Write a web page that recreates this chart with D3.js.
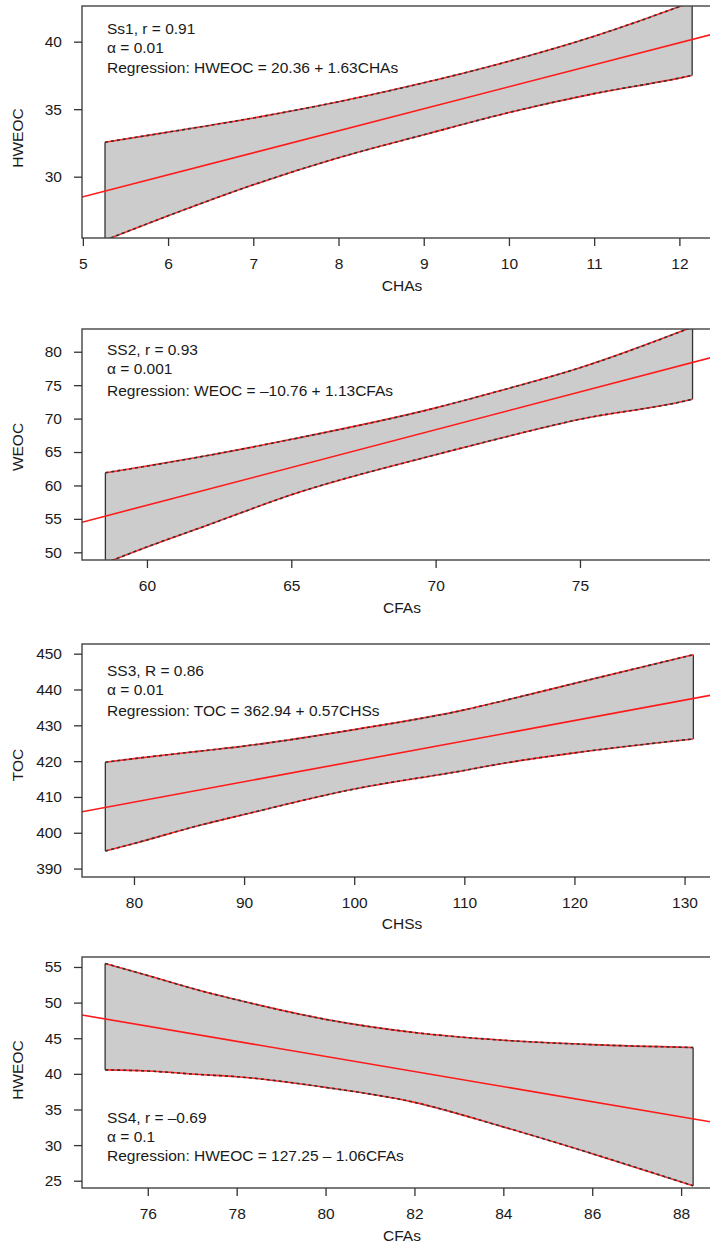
<!DOCTYPE html>
<html>

<head>
    <meta charset="utf-8">
    <style>
    body {
        margin: 0px;
        padding: 0px;
        background-color: white;
        overflow: hidden;
    }

    svg text {
        font-family: "Liberation Sans", Arial, sans-serif;
        fill: #1a1a1a;
    }

    .tick text {
        font-size: 15.5px;
    }

    .tick line {
        stroke: #333;
        stroke-width: 1.3px;
    }

    .note,
    .axis-title {
        font-size: 15.5px;
    }
    </style>
</head>

<body>
<script src="https://d3js.org/d3.v7.min.js"></script>
<script>
// SS1: HWEOC vs CHAs
var ss1X = [5.26, 6, 7, 8, 9, 10, 11, 12, 12.15];
var ss1Upper = [32.55, 33.3, 34.35, 35.55, 36.95, 38.55, 40.4, 42.6, 42.95];
var ss1Lower = [25.3, 27.1, 29.4, 31.4, 33.1, 34.75, 36.15, 37.3, 37.5];
var ss1Coef = [20.36, 1.63];
var ss1XDomain = [4.99, 12.5];
var ss1YDomain = [25.46, 42.64];
var ss1XTicks = [5, 6, 7, 8, 9, 10, 11, 12];
var ss1YTicks = [30, 35, 40];
var ss1Notes = ["Ss1, r = 0.91", "α = 0.01", "Regression: HWEOC = 20.36 + 1.63CHAs"];

// SS2: WEOC vs CFAs
var ss2X = [58.56, 60, 62, 65, 70, 72, 75, 78.6, 78.9];
var ss2Upper = [61.9, 62.9, 64.4, 66.9, 71.6, 73.9, 77.6, 83.2, 83.7];
var ss2Lower = [48.4, 50.8, 53.9, 58.6, 64.6, 66.8, 69.9, 72.6, 72.9];
var ss2Coef = [-10.76, 1.13];
var ss2XDomain = [57.75, 79.92];
var ss2YDomain = [48.85, 83.4];
var ss2XTicks = [60, 65, 70, 75];
var ss2YTicks = [50, 55, 60, 65, 70, 75, 80];
var ss2Notes = ["SS2, r = 0.93", "α = 0.001", "Regression: WEOC = –10.76 + 1.13CFAs"];

// SS3: TOC vs CHSs
var ss3X = [77.4, 80, 86, 90, 100, 110, 113.2, 120, 130.8];
var ss3Upper = [419.7, 420.7, 422.8, 424.2, 428.8, 434.3, 436.6, 441.7, 449.7];
var ss3Lower = [394.9, 397.0, 402.1, 405.1, 412.2, 417.4, 419.2, 422.3, 426.2];
var ss3Coef = [362.94, 0.57];
var ss3XDomain = [75.28, 133.4];
var ss3YDomain = [387.65, 452.7];
var ss3XTicks = [80, 90, 100, 110, 120, 130];
var ss3YTicks = [390, 400, 410, 420, 430, 440, 450];
var ss3Notes = ["SS3, R = 0.86", "α = 0.01", "Regression: TOC = 362.94 + 0.57CHSs"];

// SS4: HWEOC vs CFAs
var ss4X = [75.04, 76, 77.17, 78, 80, 82, 83.92, 86, 88.27];
var ss4Upper = [55.5, 53.8, 51.7, 50.4, 47.65, 45.8, 44.75, 44.1, 43.7];
var ss4Lower = [40.56, 40.4, 39.9, 39.6, 38.1, 36.0, 32.7, 28.8, 24.3];
var ss4Coef = [127.25, -1.06];
var ss4XDomain = [74.52, 88.92];
var ss4YDomain = [23.98, 56.4];
var ss4XTicks = [76, 78, 80, 82, 84, 86, 88];
var ss4YTicks = [25, 30, 35, 40, 45, 50, 55];
var ss4Notes = ["SS4, r = –0.69", "α = 0.1", "Regression: HWEOC = 127.25 – 1.06CFAs"];

var width = 710,
    height = 1246,
    plotLeft = 82,
    plotRight = 722;

var panels = [
    { x: ss1X, upper: ss1Upper, lower: ss1Lower, coef: ss1Coef, xDomain: ss1XDomain, yDomain: ss1YDomain,
      xTicks: ss1XTicks, yTicks: ss1YTicks, notes: ss1Notes, xTitle: "CHAs", yTitle: "HWEOC",
      top: 6, bottom: 238, yTitleY: 138, xTitleY: 286, noteY: [29, 48, 68] },
    { x: ss2X, upper: ss2Upper, lower: ss2Lower, coef: ss2Coef, xDomain: ss2XDomain, yDomain: ss2YDomain,
      xTicks: ss2XTicks, yTicks: ss2YTicks, notes: ss2Notes, xTitle: "CFAs", yTitle: "WEOC",
      top: 329, bottom: 560, yTitleY: 447, xTitleY: 608, noteY: [350, 369, 391] },
    { x: ss3X, upper: ss3Upper, lower: ss3Lower, coef: ss3Coef, xDomain: ss3XDomain, yDomain: ss3YDomain,
      xTicks: ss3XTicks, yTicks: ss3YTicks, notes: ss3Notes, xTitle: "CHSs", yTitle: "TOC",
      top: 644, bottom: 877, yTitleY: 765, xTitleY: 924, noteY: [671, 690, 711] },
    { x: ss4X, upper: ss4Upper, lower: ss4Lower, coef: ss4Coef, xDomain: ss4XDomain, yDomain: ss4YDomain,
      xTicks: ss4XTicks, yTicks: ss4YTicks, notes: ss4Notes, xTitle: "CFAs", yTitle: "HWEOC",
      top: 957, bottom: 1188, yTitleY: 1070, xTitleY: 1236, noteY: [1118, 1137, 1156] }
];

var svg = d3.select("body").append("svg")
    .attr("width", width)
    .attr("height", height);

panels.forEach(function(p, i) {
    var x = d3.scaleLinear().domain(p.xDomain).range([plotLeft, plotRight]);
    var y = d3.scaleLinear().domain(p.yDomain).range([p.bottom, p.top]);

    var g = svg.append("g").attr("class", "panel");

    g.append("clipPath")
        .attr("id", "clip" + i)
        .append("rect")
        .attr("x", plotLeft)
        .attr("y", p.top)
        .attr("width", plotRight - plotLeft)
        .attr("height", p.bottom - p.top);

    var band = p.x.map(function(v, j) {
        return { x: v, lo: p.lower[j], hi: p.upper[j] };
    });

    var inner = g.append("g").attr("clip-path", "url(#clip" + i + ")");

    // confidence band
    var area = d3.area()
        .x(d => x(d.x))
        .y0(d => y(d.lo))
        .y1(d => y(d.hi))
        .curve(d3.curveMonotoneX);

    inner.append("path")
        .datum(band)
        .attr("d", area)
        .attr("fill", "#cccccc");

    // vertical ends of the band
    [band[0], band[band.length - 1]].forEach(function(d) {
        inner.append("line")
            .attr("x1", x(d.x))
            .attr("x2", x(d.x))
            .attr("y1", y(d.lo))
            .attr("y2", y(d.hi))
            .attr("stroke", "#333")
            .attr("stroke-width", 1.3);
    });

    // band edges: red under black dashes
    ["hi", "lo"].forEach(function(k) {
        var edge = d3.line()
            .x(d => x(d.x))
            .y(d => y(d[k]))
            .curve(d3.curveMonotoneX);
        inner.append("path")
            .datum(band)
            .attr("d", edge)
            .attr("fill", "none")
            .attr("stroke", "#ff2a2a")
            .attr("stroke-width", 1.6);
        inner.append("path")
            .datum(band)
            .attr("d", edge)
            .attr("fill", "none")
            .attr("stroke", "#333")
            .attr("stroke-width", 1.6)
            .attr("stroke-dasharray", "3,3");
    });

    // regression line across the whole plot
    var reg = p.xDomain.map(function(v) {
        return { x: v, y: p.coef[0] + p.coef[1] * v };
    });
    inner.append("path")
        .datum(reg)
        .attr("d", d3.line().x(d => x(d.x)).y(d => y(d.y)))
        .attr("fill", "none")
        .attr("stroke", "#ff1a1a")
        .attr("stroke-width", 1.6);

    // box
    g.append("rect")
        .attr("x", plotLeft)
        .attr("y", p.top)
        .attr("width", plotRight - plotLeft)
        .attr("height", p.bottom - p.top)
        .attr("fill", "none")
        .attr("stroke", "#444")
        .attr("stroke-width", 1.4);

    // axes
    var xAxis = g.append("g")
        .attr("transform", "translate(0," + p.bottom + ")")
        .call(d3.axisBottom(x).tickValues(p.xTicks).tickSize(8).tickPadding(12).tickFormat(d3.format("d")));
    xAxis.select(".domain").remove();

    var yAxis = g.append("g")
        .attr("transform", "translate(" + plotLeft + ",0)")
        .call(d3.axisLeft(y).tickValues(p.yTicks).tickSize(8).tickPadding(12).tickFormat(d3.format("d")));
    yAxis.select(".domain").remove();

    g.selectAll(".tick text").style("fill", "#1a1a1a");

    // titles
    g.append("text")
        .attr("class", "axis-title")
        .attr("x", 402)
        .attr("y", p.xTitleY)
        .attr("dy", "0.35em")
        .style("text-anchor", "middle")
        .text(p.xTitle);

    g.append("text")
        .attr("class", "axis-title")
        .attr("transform", "translate(18," + p.yTitleY + ") rotate(-90)")
        .attr("dy", "0.35em")
        .style("text-anchor", "middle")
        .text(p.yTitle);

    // annotation
    g.selectAll(".note")
        .data(p.notes)
        .enter().append("text")
        .attr("class", "note")
        .attr("x", 107)
        .attr("y", (d, j) => p.noteY[j])
        .attr("dy", "0.35em")
        .text(d => d);
});
</script>
</body>

</html>
